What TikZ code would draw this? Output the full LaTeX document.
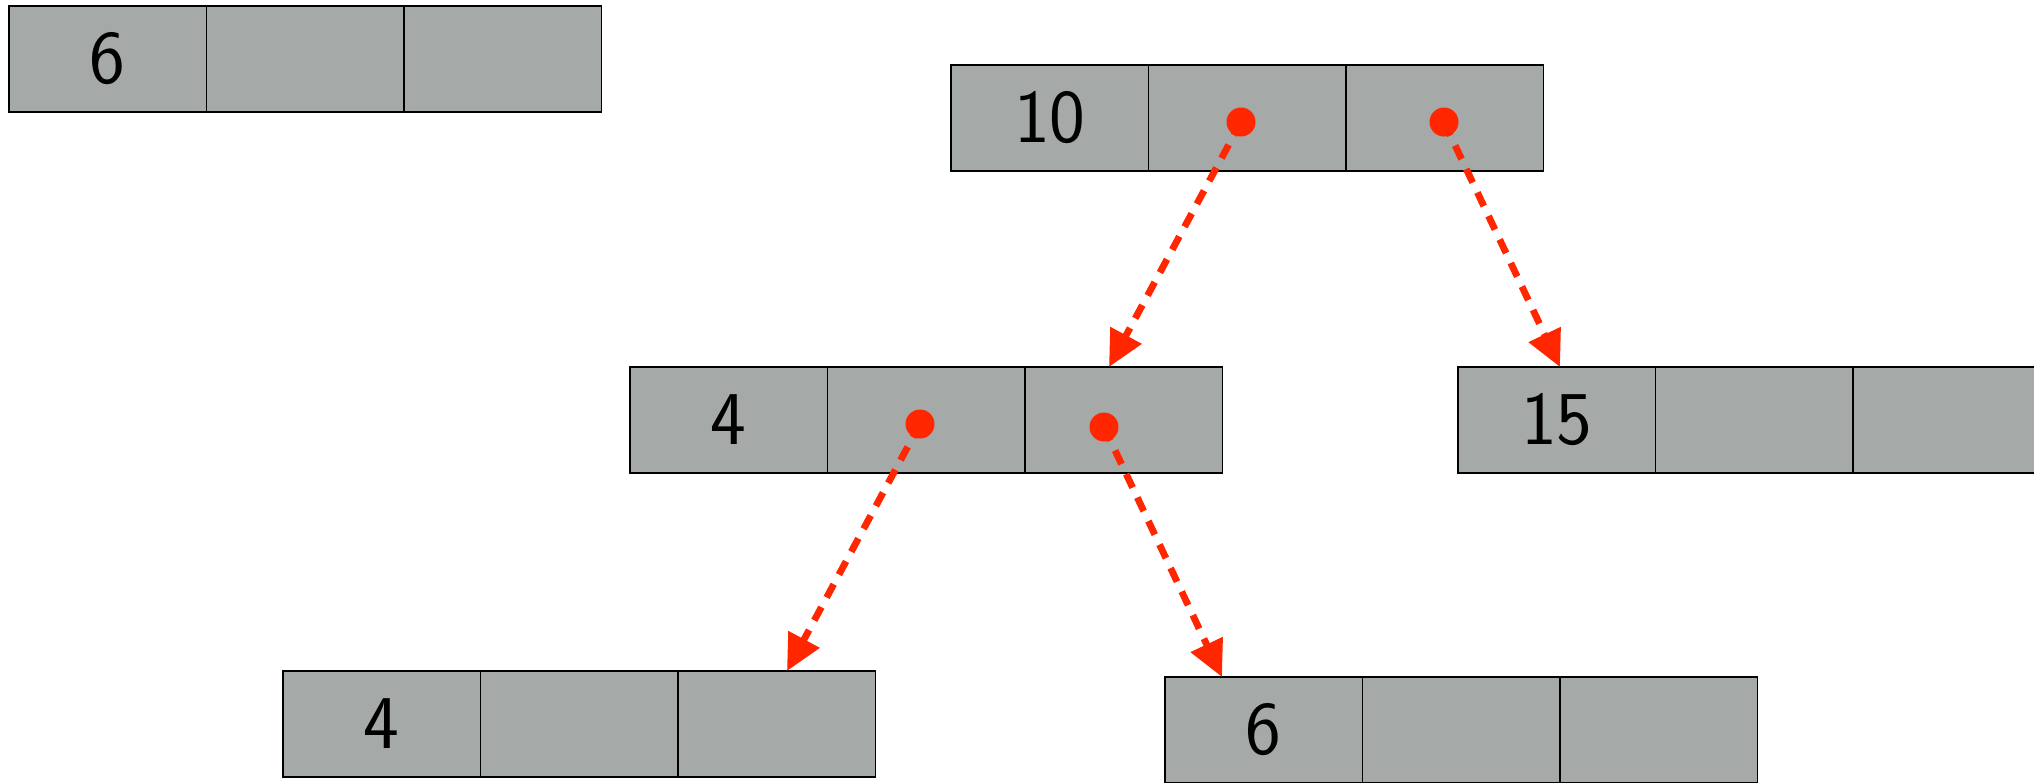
\documentclass[tikz,border=0pt]{standalone}
\usetikzlibrary{arrows.meta,positioning}
\definecolor{cellgray}{RGB}{165,169,167}
\definecolor{ptrred}{RGB}{255,38,0}
\begin{document}
\begin{tikzpicture}[x=0.5pt,y=-0.5pt,
  cell/.style={draw=black,line width=0.6pt,fill=cellgray,minimum width=98.75pt,minimum height=53pt,
    inner sep=0pt,outer sep=0pt,anchor=north west,font=\sffamily\fontsize{38}{42}\selectfont},
  ptrdot/.style={circle,fill=ptrred,inner sep=0pt,minimum size=14.5pt},
  ptr/.style={draw=ptrred,line width=3.4pt,dash pattern=on 7.5pt off 5.5pt,
    -{Triangle[length=18pt,width=17pt,fill=ptrred]}}]
\useasboundingbox (0,0) rectangle (2034,782);
\clip (0,0) rectangle (2034,782);
% record A
\node[cell] (a1) at (9,6) {6};
\node[cell] (a2) at (206.5,6) {};
\node[cell] (a3) at (404,6) {};
% record B
\node[cell] (b1) at (951,65) {10};
\node[cell] (b2) at (1148.5,65) {};
\node[cell] (b3) at (1346,65) {};
% record C
\node[cell] (c1) at (630,367) {4};
\node[cell] (c2) at (827.5,367) {};
\node[cell] (c3) at (1025,367) {};
% record D
\node[cell] (d1) at (1458,367) {15};
\node[cell] (d2) at (1655.5,367) {};
\node[cell] (d3) at (1853,367) {};
% record E
\node[cell] (e1) at (283,671) {4};
\node[cell] (e2) at (480.5,671) {};
\node[cell] (e3) at (678,671) {};
% record F
\node[cell] (f1) at (1165,677) {6};
\node[cell] (f2) at (1362.5,677) {};
\node[cell] (f3) at (1560,677) {};
% pointer dots
\node[ptrdot] (pb2) at (1241,122) {};
\node[ptrdot] (pb3) at (1444,122) {};
\node[ptrdot] (pc2) at (920,424) {};
\node[ptrdot] (pc3) at (1104,427) {};
% arrow tips
\coordinate (tc) at (1109,367);
\coordinate (td) at (1560,367);
\coordinate (te) at (787,671);
\coordinate (tf) at (1222,677);
\draw[ptr] (pb2.center) -- (tc);
\draw[ptr] (pb3.center) -- (td);
\draw[ptr] (pc2.center) -- (te);
\draw[ptr] (pc3.center) -- (tf);
\end{tikzpicture}
\end{document}
